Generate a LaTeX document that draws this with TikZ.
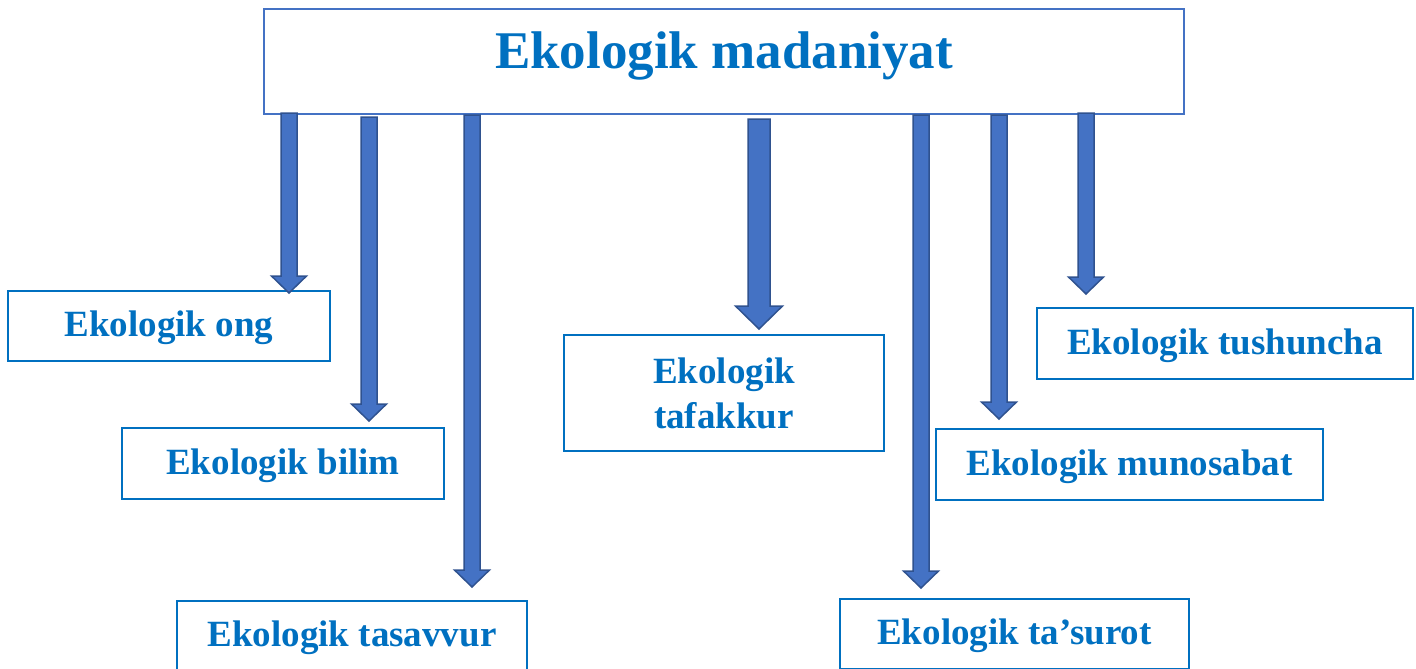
\documentclass[tikz,border=0pt]{standalone}
\usepackage{fontspec}
\setmainfont{Liberation Serif}
\usetikzlibrary{calc}
\definecolor{txtblue}{HTML}{0070C0}
\definecolor{arrfill}{HTML}{4472C4}
\definecolor{arrline}{HTML}{2F528F}
\tikzstyle{box}=[draw=txtblue, line width=2pt, text=txtblue, inner sep=0pt,
  font=\bfseries\fontsize{37}{45}\selectfont, text height=26pt, text depth=5pt]
\tikzstyle{arrowbody}=[draw=arrline, fill=arrfill, line width=1.5pt, line join=miter]
\providecommand{\blockarr}[6]{%
  \coordinate (tip) at ($(#1 |- #2.north)+(0,#3)$);
  \draw[arrowbody] ($(#1)+(-#4,0)$) -- ($(tip)+(-#4,-#6)$) -- ($(tip)+(-#5,-#6)$) -- (tip)
    -- ($(tip)+(#5,-#6)$) -- ($(tip)+(#4,-#6)$) -- ($(#1)+(#4,0)$) -- cycle;}

\begin{document}
\begin{tikzpicture}[x=1pt, y=-1pt]
\useasboundingbox (0,0) rectangle (1416,669);
\node[box, draw=arrfill, minimum width=920pt, minimum height=105pt,
  font=\bfseries\fontsize{53}{60}\selectfont, text height=35pt, text depth=20pt]
  (madaniyat) at (724,61.5) {Ekologik madaniyat};
\node[box, minimum width=322pt, minimum height=70pt] (ong) at (169,326) {Ekologik ong};
\node[box, minimum width=322pt, minimum height=71pt] (bilim) at (283,463.5) {Ekologik bilim};
\node[box, minimum width=350pt, minimum height=70pt] (tasavvur) at (352,636) {Ekologik tasavvur};
\node[box, minimum width=320pt, minimum height=116pt, align=center, text height=, text depth=]
  (tafakkur) at (724,393) {Ekologik\\tafakkur};
\node[box, minimum width=349pt, minimum height=70pt] (tasurot) at (1014.5,634) {Ekologik ta’surot};
\node[box, minimum width=387pt, minimum height=71pt] (munosabat) at (1129.5,464.5) {Ekologik munosabat};
\node[box, minimum width=376pt, minimum height=71pt] (tushuncha) at (1225,343.5) {Ekologik tushuncha};
\coordinate (s1) at (289,113);
\coordinate (s2) at (369,117);
\coordinate (s3) at (472,115);
\coordinate (s4) at (759,119);
\coordinate (s5) at (921,115);
\coordinate (s6) at (999,115);
\coordinate (s7) at (1086,113);
\blockarr{s1}{ong}{3}{8}{17.5}{17}
\blockarr{s2}{bilim}{-6}{8}{17.5}{17}
\blockarr{s3}{tasavvur}{-13}{8}{17.5}{17}
\blockarr{s4}{tafakkur}{-5}{11}{23.5}{23}
\blockarr{s5}{tasurot}{-10}{8}{17.5}{17}
\blockarr{s6}{munosabat}{-9}{8}{17.5}{17}
\blockarr{s7}{tushuncha}{-13}{8}{17.5}{17}
\end{tikzpicture}
\end{document}
